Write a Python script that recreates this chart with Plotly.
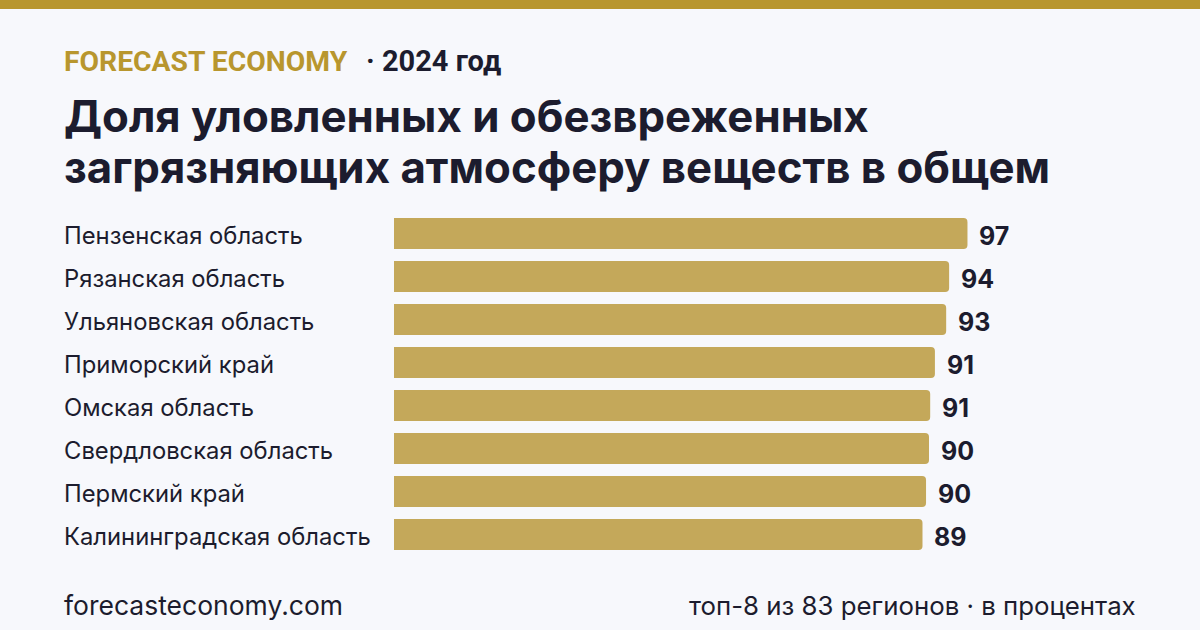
import plotly.graph_objects as go

regions = ["Пензенская область", "Рязанская область", "Ульяновская область", "Приморский край",
           "Омская область", "Свердловская область", "Пермский край", "Калининградская область"]
values = [96.9, 93.8, 93.3, 91.4, 90.6, 90.4, 89.9, 89.3]
value_labels = ["97", "94", "93", "91", "91", "90", "90", "89"]

brand = "FORECAST ECONOMY"
year_text = "· 2024 год"
title_lines = ["Доля уловленных и обезвреженных", "загрязняющих атмосферу веществ в общем"]
footer_left = "forecasteconomy.com"
footer_right = "топ-8 из 83 регионов · в процентах"

W, H = 1200, 630
ML, MR, MT, MB = 394, 155, 212, 74
PH = H - MT - MB
PW = W - ML - MR

BG = "#f7f8fc"
GOLD = "#b8962e"
BAR = "#c4a85a"
DARK = "#1c1c2e"


def py(pixel_y):
    return (H - MB - pixel_y) / PH


def px(pixel_x):
    return (pixel_x - ML) / PW


fig = go.Figure(go.Bar(
    x=values, y=regions, orientation="h",
    marker=dict(color=BAR, cornerradius=4, line=dict(width=0)),
    hoverinfo="skip",
))

ann = []
for r, v, t in zip(regions, values, value_labels):
    ann.append(dict(x=v, y=r, xref="x", yref="y", text=t, showarrow=False, xanchor="left",
                    xshift=10, yshift=-2, font=dict(family="Inter", size=25, color=DARK, weight=700)))
    ann.append(dict(x=px(62), y=r, xref="paper", yref="y", text=r, showarrow=False, xanchor="left",
                    yshift=-1.5, font=dict(family="Inter", size=23.8, color=DARK)))

ann.append(dict(x=px(62), y=py(61), xref="paper", yref="paper", text=brand, showarrow=False,
                xanchor="left", yanchor="middle",
                font=dict(family="Roboto", size=28.3, color=GOLD, weight=700)))
ann.append(dict(x=px(364), y=py(61), xref="paper", yref="paper", text=year_text, showarrow=False,
                xanchor="left", yanchor="middle",
                font=dict(family="Roboto", size=29, color=DARK, weight=700)))
for i, line in enumerate(title_lines):
    ann.append(dict(x=px(62), y=py(117 + 50 * i), xref="paper", yref="paper", text=line, showarrow=False,
                    xanchor="left", yanchor="middle",
                    font=dict(family="Inter", size=43.8, color=DARK, weight=700)))
ann.append(dict(x=px(62), y=py(605), xref="paper", yref="paper", text=footer_left, showarrow=False,
                xanchor="left", yanchor="middle",
                font=dict(family="Inter", size=26.5, color=DARK)))
ann.append(dict(x=px(1138), y=py(605), xref="paper", yref="paper", text=footer_right, showarrow=False,
                xanchor="right", yanchor="middle",
                font=dict(family="Inter", size=25.8, color=DARK)))

fig.update_layout(
    width=W, height=H,
    margin=dict(l=ML, r=MR, t=MT, b=MB),
    paper_bgcolor=BG, plot_bgcolor=BG,
    bargap=0.28,
    showlegend=False,
    xaxis=dict(range=[0, 110], visible=False, fixedrange=True),
    yaxis=dict(autorange="reversed", visible=False, fixedrange=True),
    annotations=ann,
    shapes=[dict(type="rect", xref="paper", yref="paper", x0=px(0), x1=px(W), y0=py(9), y1=py(0),
                 fillcolor=GOLD, line=dict(width=0), layer="above")],
)

fig.write_html("out.html", config={"displayModeBar": False})
